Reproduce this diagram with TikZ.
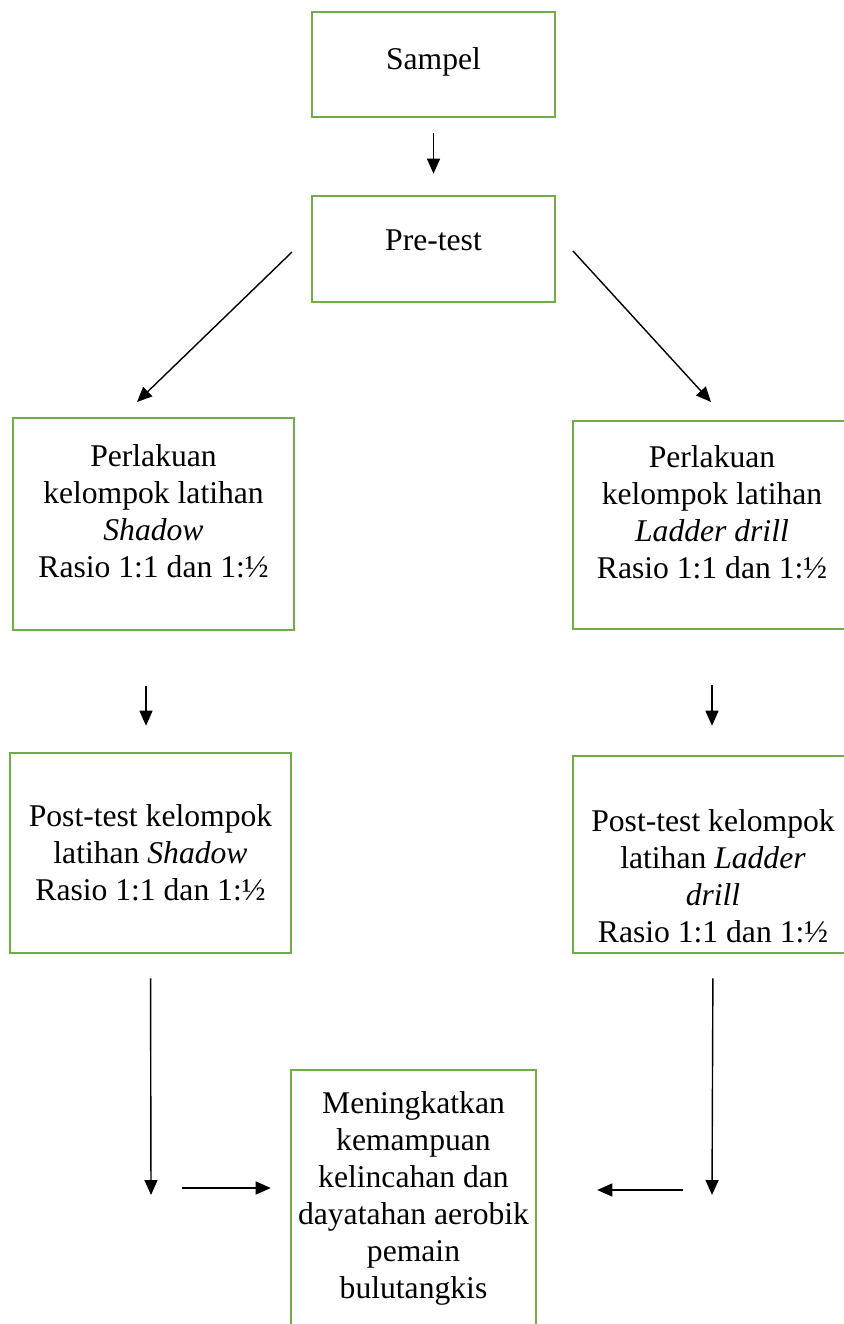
\documentclass[tikz,border=0pt]{standalone}
\usepackage{fontspec}
\setmainfont{Liberation Serif}
\usetikzlibrary{arrows.meta}
\definecolor{hijau}{RGB}{112,173,71}
\begin{document}
\begin{tikzpicture}[
    x=0.02cm, y=-0.02cm,
    kotak/.style={draw=hijau, line width=1.5pt, align=center, inner sep=2pt, font=\fontsize{18}{21}\selectfont},
    panah/.style={-{Triangle[length=3mm,width=2.6mm]}, line width=0.8pt}
]
    \useasboundingbox (0,0) rectangle (843,1324);

    \node[kotak, minimum width=4.86cm, minimum height=2.1cm, text depth=7pt] (sampel) at (433.5,64.5) {Sampel};
    \node[kotak, minimum width=4.86cm, minimum height=2.12cm, text depth=10pt] (pretest) at (433.5,249) {Pre-test};
    \node[kotak, minimum width=5.62cm, minimum height=4.24cm, text depth=15pt] (perlakuanA) at (153.5,524)
        {Perlakuan\\ kelompok latihan\\ \textit{Shadow}\\ Rasio 1:1 dan 1:½};
    \node[kotak, minimum width=5.56cm, minimum height=4.16cm, text depth=15pt] (perlakuanB) at (712,525)
        {Perlakuan\\ kelompok latihan\\ \textit{Ladder drill}\\ Rasio 1:1 dan 1:½};
    \node[kotak, minimum width=5.62cm, minimum height=4.0cm] (postA) at (150.5,853)
        {Post-test kelompok\\ latihan \textit{Shadow}\\ Rasio 1:1 dan 1:½};
    \node[kotak, minimum width=5.6cm, minimum height=3.94cm, text height=100pt] (postB) at (713,854.5)
        {Post-test kelompok\\ latihan \textit{Ladder}\\ \textit{drill}\\ Rasio 1:1 dan 1:½};
    \node[kotak, minimum width=4.9cm, minimum height=5.14cm] (hasil) at (413.5,1198.5)
        {Meningkatkan\\ kemampuan\\ kelincahan dan\\ dayatahan aerobik\\ pemain\\ bulutangkis};

    \coordinate (d1a) at (292,252);
    \coordinate (d1b) at (137,402);
    \coordinate (d2a) at (573,251);
    \coordinate (d2b) at (711,402);
    \coordinate (k1) at (151,1195);
    \coordinate (k2) at (712,1195);
    \coordinate (h1) at (182,1188);
    \coordinate (h2) at (683,1190);

    \draw[panah, shorten <=0.3cm, shorten >=0.42cm] (sampel) -- (pretest);
    \draw[panah] (d1a) -- (d1b);
    \draw[panah] (d2a) -- (d2b);
    \draw[panah, shorten <=1.1cm, shorten >=0.52cm] ([xshift=-0.15cm]perlakuanA.south) -- ([xshift=-0.15cm]perlakuanA.south |- postA.north);
    \draw[panah, shorten <=1.1cm, shorten >=0.58cm] (perlakuanB.south) -- (perlakuanB.south |- postB.north);
    \draw[panah, shorten <=0.48cm] (postA.south) -- (k1);
    \draw[panah, shorten <=0.48cm] (postB.south) -- (k2);
    \draw[panah, shorten >=0.38cm] (h1) -- (h1 -| hasil.west);
    \draw[panah, shorten >=1.2cm] (h2) -- (h2 -| hasil.east);
\end{tikzpicture}
\end{document}
